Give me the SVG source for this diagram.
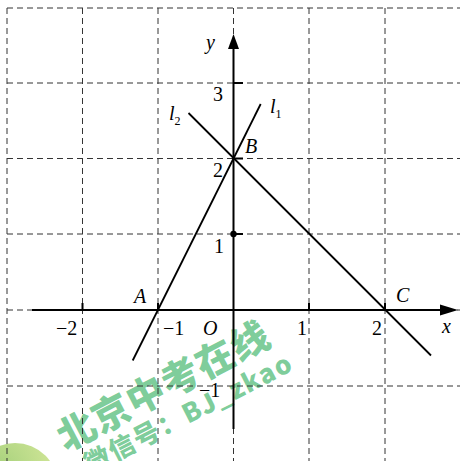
<svg xmlns="http://www.w3.org/2000/svg" width="460" height="461" viewBox="0 0 460 461">
<defs>
<radialGradient id="g" cx="0.3" cy="0.3" r="0.8">
<stop offset="0" stop-color="#a6d17c"/>
<stop offset="1" stop-color="#d8e99c"/>
</radialGradient>
</defs>
<style>
.grid{stroke:#333;stroke-width:1;stroke-dasharray:6 4;fill:none}
.axis{stroke:#000;stroke-width:2;fill:none}
.ln{stroke:#000;stroke-width:1.8;fill:none}
.t{font-family:"Liberation Serif","Times New Roman",serif;font-size:20px;fill:#000}
.i{font-style:italic}
.s{font-size:12px}
.wm{font-family:"Noto Sans CJK SC","Noto Sans",sans-serif;font-weight:900;fill:#5cbf7f;fill-opacity:0.8}
</style>
<rect width="460" height="461" fill="#fff"/>
<circle cx="15" cy="486" r="43" fill="url(#g)"/>
<g id="watermark">
<text class="wm" font-size="38" letter-spacing="1" transform="translate(66,452) rotate(-27.5)">北京中考在线</text>
<text class="wm" font-size="26" letter-spacing="1.5" transform="translate(90,474) rotate(-27)">微信号：BJ_zkao</text>
</g>
<g id="grid" class="grid">
<path d="M7,8V461M82.5,8V461M158,8V461M233.5,8V461M309,8V461M385,8V461"/>
<path d="M7,8H460M7,83H460M7,158.5H460M7,234H460M7,310H460M7,386H460"/>
</g>
<g id="axes">
<path class="axis" d="M32,310H444"/>
<path d="M458,310L440,304.5L440,315.5Z" fill="#000"/>
<path class="axis" d="M233.5,429V46"/>
<path d="M233.5,34L228,49L239,49Z" fill="#000"/>
<path class="axis" d="M82.5,310V303M158,310V303M309,310V303M385,310V303M233.5,83H243M233.5,158.5H243M233.5,234H243"/>
<circle cx="233.5" cy="234" r="3.2" fill="#000"/>
</g>
<g id="connectors">
<path id="l1" class="ln" d="M132.7,360.5L260.7,104"/>
<path id="l2" class="ln" d="M188.5,113L431,355.5"/>
</g>
<g id="labels" class="t">
<text x="206" y="49" class="i">y</text>
<text x="213" y="101">3</text>
<text x="213" y="177">2</text>
<text x="214" y="253">1</text>
<text x="199" y="397">−1</text>
<text x="442" y="333" class="i">x</text>
<text x="56" y="335">−2</text>
<text x="163" y="335">−1</text>
<text x="203" y="335" class="i">O</text>
<text x="297" y="335">1</text>
<text x="372" y="335">2</text>
<text x="134" y="303" class="i">A</text>
<text x="245" y="153" class="i">B</text>
<text x="396" y="302" class="i">C</text>
<text x="169" y="120" class="i">l<tspan class="s" font-style="normal" dy="5">2</tspan></text>
<text x="270" y="113" class="i">l<tspan class="s" font-style="normal" dy="5">1</tspan></text>
</g>
</svg>
